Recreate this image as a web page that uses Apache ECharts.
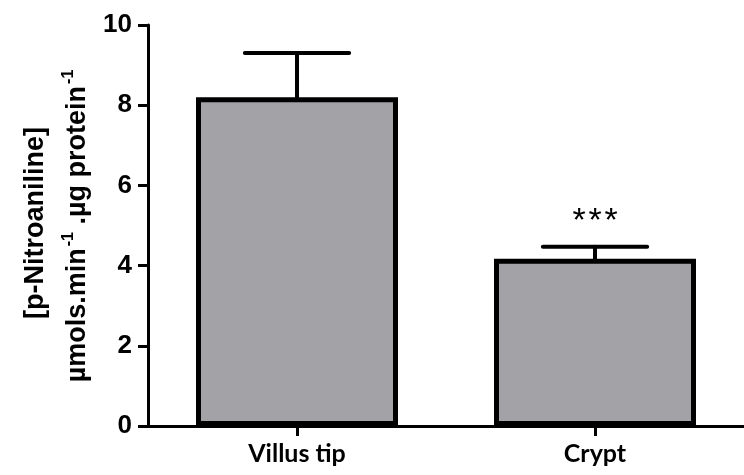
<!DOCTYPE html>
<html>
<head>
<meta charset="utf-8">
<script src="https://cdn.jsdelivr.net/npm/echarts@6/dist/echarts.min.js"></script>
<style>
  html, body { margin: 0; padding: 0; background: #fff; }
  #chart { width: 744px; height: 475px; }
</style>
</head>
<body>
<div id="chart"></div>
<script>
// Enzyme activity by crypt-villus position (mean ± SEM)
const categories = ['Villus tip', 'Crypt'];
const meanValues = [8.2, 4.17];
const semValues = [1.1, 0.3];
const significance = ['', '***'];
const yTicks = [0, 2, 4, 6, 8, 10];

const chart = echarts.init(document.getElementById('chart'), null, { renderer: 'canvas' });

const errorData = categories.map((c, i) => [i, meanValues[i], meanValues[i] + semValues[i], significance[i]]);

const titleFont = 'Liberation Sans';

function renderErrorBar(params, api) {
  const idx = api.value(0);
  const base = api.coord([idx, api.value(1)]);
  const top = api.coord([idx, api.value(2)]);
  const band = api.size([1, 0])[0];
  const half = band * 0.175;
  const style = { stroke: '#000', lineWidth: 4, lineCap: 'round' };
  const children = [
    { type: 'line', shape: { x1: top[0], y1: base[1], x2: top[0], y2: top[1] }, style: style },
    { type: 'line', shape: { x1: top[0] - half, y1: top[1], x2: top[0] + half, y2: top[1] }, style: style }
  ];
  // significance marks: one glyph per character, evenly spaced above the cap
  const mark = String(api.value(3) || '');
  const step = 16;
  for (let k = 0; k < mark.length; k++) {
    children.push({
      type: 'text',
      x: top[0] + (k - (mark.length - 1) / 2) * step,
      y: top[1] - 25,
      style: {
        text: mark[k], fill: '#000',
        fontFamily: titleFont, fontSize: 34, fontWeight: 'normal',
        align: 'center', verticalAlign: 'middle'
      }
    });
  }
  return { type: 'group', children: children };
}

chart.setOption({
  animation: false,
  grid: { left: 148, right: -6, top: 25, bottom: 49 },
  xAxis: {
    type: 'category',
    data: categories,
    axisLine: { show: true, lineStyle: { color: '#000', width: 3 } },
    axisTick: { show: true, alignWithLabel: true, length: 10, lineStyle: { color: '#000', width: 3 } },
    axisLabel: { color: '#000', fontFamily: 'Lato', fontWeight: 'bold', fontSize: 25, margin: 15 }
  },
  yAxis: {
    type: 'value',
    min: yTicks[0],
    max: yTicks[yTicks.length - 1],
    interval: yTicks[1] - yTicks[0],
    splitLine: { show: false },
    axisLine: { show: true, lineStyle: { color: '#000', width: 3 } },
    axisTick: { show: true, length: 10, lineStyle: { color: '#000', width: 3 } },
    axisLabel: { color: '#000', fontFamily: titleFont, fontWeight: 'bold', fontSize: 26, margin: 16 }
  },
  graphic: [
    {
      type: 'text',
      x: 36, y: 223,
      rotation: Math.PI / 2,
      style: {
        text: '[p-Nitroaniline]',
        fontFamily: titleFont, fontSize: 27, fontWeight: 'bold',
        fill: '#000',
        align: 'center',
        verticalAlign: 'middle'
      }
    },
    {
      type: 'text',
      x: 78, y: 226,
      rotation: Math.PI / 2,
      style: {
        text: 'µmols.min{sup|-1} .µg protein{sup|-1}',
        fontFamily: titleFont, fontSize: 27, fontWeight: 'bold',
        fill: '#000',
        align: 'center',
        verticalAlign: 'middle',
        rich: {
          sup: { fontFamily: titleFont, fontSize: 16, fontWeight: 'bold', fill: '#000', verticalAlign: 'top', padding: [0, 0, 18, 2] }
        }
      }
    }
  ],
  series: [
    {
      type: 'bar',
      data: meanValues,
      barWidth: 202,
      itemStyle: { color: '#a3a2a7', borderColor: '#000', borderWidth: 5 },
      z: 2
    },
    {
      type: 'custom',
      data: errorData,
      renderItem: renderErrorBar,
      encode: { x: 0, y: [1, 2] },
      z: 1
    }
  ]
});
</script>
</body>
</html>
